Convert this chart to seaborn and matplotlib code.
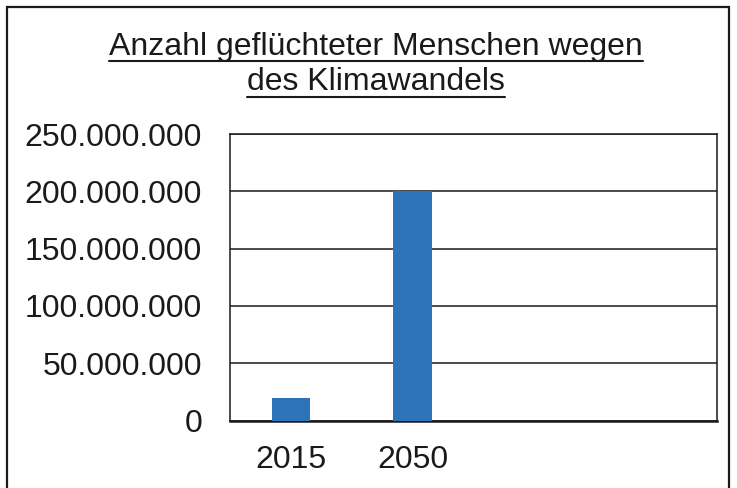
import matplotlib
matplotlib.use("Agg")
import matplotlib.pyplot as plt
import seaborn as sns
import pandas as pd
from matplotlib.ticker import FuncFormatter, MultipleLocator
from matplotlib.patches import Rectangle
from matplotlib.lines import Line2D

years = ["2015", "2050"]
values = [20_000_000, 200_000_000]
title_lines = ["Anzahl geflüchteter Menschen wegen", "des Klimawandels"]

sns.set_theme(style="white")
plt.rcParams['font.family'] = ['Liberation Sans', 'DejaVu Sans']

W, H = 737, 488
FS = 23
fig = plt.figure(figsize=(W / 100, H / 100), dpi=100)
fig.patch.set_facecolor("white")

ax = fig.add_axes([230 / W, 1 - 420.5 / H, (717 - 230) / W, (420.5 - 134) / H])
df = pd.DataFrame({"Jahr": years, "Anzahl": values})
sns.barplot(data=df, x="Jahr", y="Anzahl", ax=ax, color="#2e73b9",
            saturation=1, width=0.315, linewidth=0, zorder=3)
ax.set_xlim(-0.5, 3.5)
ax.set_ylim(0, 250_000_000)
ax.yaxis.set_major_locator(MultipleLocator(50_000_000))
ax.yaxis.set_major_formatter(FuncFormatter(lambda v, p: f"{int(round(v)):,}".replace(",", ".")))
ax.set_xlabel("")
ax.set_ylabel("")
ax.grid(axis="y", color="#1a1a1a", linewidth=1.1, zorder=0)
ax.set_axisbelow(True)
for s in ["left", "top", "right"]:
    ax.spines[s].set_visible(True)
    ax.spines[s].set_color("#1a1a1a")
    ax.spines[s].set_linewidth(1.1)
ax.spines["bottom"].set_color("#1a1a1a")
ax.spines["bottom"].set_linewidth(1.8)
ax.tick_params(axis="y", length=0, pad=20, labelsize=FS, labelcolor="#1a1a1a")
ax.tick_params(axis="x", length=0, pad=18, labelsize=FS, labelcolor="#1a1a1a")

# outer frame
fig.add_artist(Rectangle((7 / W, -0.05), (729 - 7) / W, 1 - 7 / H + 0.05,
                         transform=fig.transFigure, fill=False,
                         edgecolor="#1a1a1a", linewidth=1.6))

# title with underline
cx = 376 / W
baselines = [54.5, 90.5]
texts = []
for line, b in zip(title_lines, baselines):
    t = fig.text(cx, 1 - b / H, line, ha="center", va="baseline",
                 fontsize=FS, color="#1a1a1a")
    texts.append((t, b))
fig.canvas.draw()
r = fig.canvas.get_renderer()
for t, b in texts:
    bb = t.get_window_extent(renderer=r)
    yline = 1 - (b + 6.5) / H
    fig.add_artist(Line2D([bb.x0 / W, bb.x1 / W], [yline, yline],
                          transform=fig.transFigure, color="#1a1a1a", linewidth=1.5))

fig.savefig("out.png", dpi=100, facecolor="white")
